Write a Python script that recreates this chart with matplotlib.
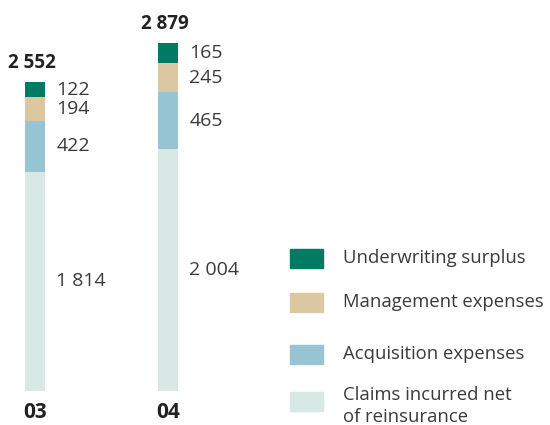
import matplotlib.pyplot as plt
from matplotlib.patches import Rectangle

years = ['03', '04']
claims = [1814, 2004]
acquisition = [422, 465]
management = [194, 245]
surplus = [122, 165]
totals = ['2 552', '2 879']

series = [
    ('Claims incurred net\nof reinsurance', claims, '#d8e9e5'),
    ('Acquisition expenses', acquisition, '#97c4d2'),
    ('Management expenses', management, '#dcc8a0'),
    ('Underwriting surplus', surplus, '#007a63'),
]

def fmt(v):
    return f'{v:,}'.replace(',', ' ')

plt.rcParams['font.family'] = ['Open Sans', 'DejaVu Sans']
txt = '#3a3a3a'

fig = plt.figure(figsize=(5.5, 4.25), dpi=100)
ax = fig.add_axes([0, 34 / 425, 1, 362.7 / 425])
ax.set_xlim(-35 / 133, 515 / 133)
ax.set_ylim(0, 3000)
ax.axis('off')

x = list(range(len(years)))
bottom = [0, 0]
for name, vals, col in series:
    ax.bar(x, vals, width=0.15, bottom=bottom, color=col)
    for i, v in enumerate(vals):
        ax.text(x[i] + 0.16, bottom[i] + v / 2, fmt(v), ha='left', va='center',
                fontsize=14, color=txt)
    bottom = [b + v for b, v in zip(bottom, vals)]

for i, t in enumerate(totals):
    ax.text(x[i] - 0.02, bottom[i] + 75, t, ha='center', va='bottom',
            fontsize=13.5, fontweight='bold', color='#222222')

for i, y in enumerate(years):
    ax.text(x[i], -90, y, ha='center', va='top', fontsize=15,
            fontweight='bold', color='#222222')

# legend drawn by hand
leg_y = [258, 302, 354, 401]
for (name, vals, col), yy in zip(series[::-1], leg_y):
    fig.patches.append(Rectangle((290 / 550, 1 - (yy + 9.5) / 425), 33 / 550, 19 / 425,
                                 transform=fig.transFigure, color=col))
    ty = yy if '\n' not in name else 406
    fig.text(343 / 550, 1 - ty / 425, name, ha='left', va='center', fontsize=13.3,
             color=txt, linespacing=1.3)

fig.savefig('out.png', dpi=100)
